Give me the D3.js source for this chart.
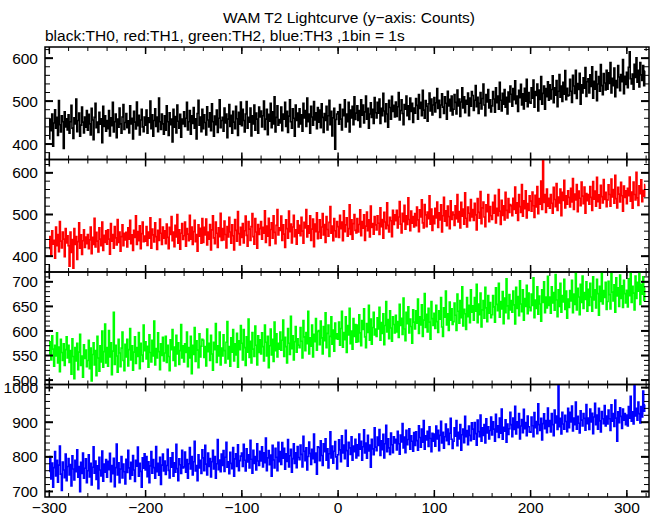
<!DOCTYPE html>
<html><head><meta charset="utf-8">
<script src="https://cdn.jsdelivr.net/npm/d3@7"></script>
<style>body{margin:0;background:#fff}svg{display:block}text{font-family:"Liberation Sans",Arial,sans-serif;fill:#000}</style>
</head><body><div id="chart"></div>
<script>
const title = "WAM T2 Lightcurve (y\u2212axis: Counts)";
const subtitle = "black:TH0, red:TH1, green:TH2, blue:TH3 ,1bin = 1s";
const binStart = -300, binWidth = 1;
const xTickValues = [-300, -200, -100, 0, 100, 200, 300];
const xTickLabels = ["\u2212300", "\u2212200", "\u2212100", "0", "100", "200", "300"];
const seriesNames = ["TH0", "TH1", "TH2", "TH3"];
const seriesColors = ["#000000", "#ff0000", "#00ff00", "#0000ff"];
const yDomains = [[364, 626], [362, 632], [491, 720], [684, 1009]];
const yTickValues = [[400, 500, 600], [400, 500, 600], [500, 550, 600, 650, 700], [700, 800, 900, 1000]];
const yMinorSteps = [20, 20, 10, 20];

const th0 = [
412,458,431,470,395,449,480,437,462,420,501,445,428,466,452,390,475,440,459,433,
468,425,452,490,437,413,461,447,505,429,455,472,418,444,486,451,426,463,439,478,
432,469,447,421,483,456,410,462,495,438,451,427,474,446,459,403,488,441,466,430,
455,436,478,419,461,443,497,428,452,470,415,458,439,484,447,425,463,492,434,450,
471,438,454,426,489,447,460,412,476,451,435,498,443,467,421,456,481,440,429,463,
444,479,425,461,450,500,436,468,418,455,482,441,463,429,507,452,434,470,447,423,
466,432,489,452,420,473,445,458,405,481,439,464,426,491,453,437,469,416,458,447,
475,441,460,497,433,452,478,423,466,448,485,437,459,412,471,502,444,463,429,481,
436,468,450,421,487,456,440,473,431,494,452,418,465,445,479,427,460,503,438,455,
462,430,484,449,470,415,458,492,441,467,425,476,451,436,488,459,420,474,446,498,
443,481,455,428,470,499,437,462,451,484,419,466,447,491,432,472,458,425,486,463,
477,440,466,500,434,458,481,422,469,453,495,438,475,447,510,428,462,489,444,457,
449,486,431,470,458,497,441,476,427,465,503,452,437,482,460,418,491,455,472,440,
482,447,468,430,495,461,478,441,507,452,470,425,488,463,444,499,456,473,436,485,
451,479,438,494,462,427,471,455,488,433,466,502,445,476,419,461,483,388,457,470,
475,446,492,458,433,481,466,503,440,470,452,497,428,479,461,488,445,510,457,472,
489,455,478,440,503,467,491,449,475,512,458,483,437,470,496,462,481,448,508,473,
461,497,472,505,448,483,466,518,477,452,494,470,439,502,485,458,511,476,490,463,
498,464,487,520,456,478,503,471,445,492,481,512,466,489,457,507,476,495,450,484,
472,506,490,458,515,483,497,466,525,479,460,501,488,453,494,519,477,505,468,491,
508,475,496,529,483,502,462,491,517,486,471,510,495,458,523,489,504,477,512,468,
481,515,497,470,526,489,505,464,498,531,484,510,473,502,493,519,466,507,488,522,
513,478,502,536,487,509,471,495,520,482,506,540,491,466,515,498,527,484,503,475,
489,522,505,474,531,496,512,481,544,502,477,518,493,527,486,509,470,521,498,535,
516,488,529,503,547,494,512,476,525,508,539,491,517,482,530,500,551,487,520,498,
495,531,507,549,486,522,513,540,477,526,504,557,493,518,535,481,529,510,545,502,
538,505,527,559,496,531,514,548,487,523,562,509,535,499,544,516,571,503,530,512,
514,551,523,497,560,535,518,572,506,541,527,565,493,538,519,554,530,578,511,545,
552,519,561,534,580,507,546,528,569,501,540,557,523,585,536,515,564,542,526,572,
528,566,541,590,519,553,536,577,510,548,531,583,556,524,562,545,597,517,558,539,
567,531,579,615,552,540,563,528,586,555,601,544,572,533,590,561,548,583,536,570];

const th1 = [
418,447,402,461,429,438,395,470,425,452,411,483,436,420,458,441,399,466,432,449,
425,376,458,409,440,371,466,428,447,392,435,480,419,451,404,437,463,421,446,430,
452,418,439,470,406,445,428,491,422,457,436,410,468,441,425,482,414,450,433,461,
429,463,441,405,478,436,452,419,471,444,427,488,433,458,412,447,475,425,455,439,
457,422,468,441,486,430,451,414,462,445,497,428,459,437,473,418,454,482,435,448,
436,471,426,458,443,492,419,465,451,434,480,447,416,462,438,489,455,428,470,443,
461,430,477,445,418,469,452,495,437,458,423,474,446,500,431,463,417,455,478,440,
449,482,424,466,453,437,498,441,470,428,459,486,435,452,412,475,448,467,431,490,
433,469,451,489,427,458,441,476,415,463,497,444,430,482,455,421,468,447,503,438,
466,439,484,452,420,471,446,493,458,431,475,449,415,488,462,436,507,454,427,469,
445,478,432,461,496,450,424,483,465,438,471,502,447,429,490,458,419,476,452,466,
483,441,469,455,509,433,472,448,491,426,464,480,443,497,457,430,474,512,451,468,
462,496,438,475,453,421,487,466,443,508,459,477,432,470,498,447,463,429,485,455,
474,449,493,460,431,481,468,512,446,473,455,497,438,465,489,423,477,459,504,442,
458,487,443,470,502,451,476,433,495,464,448,481,519,455,472,437,490,461,446,483,
471,445,498,466,482,437,509,459,475,492,448,466,523,452,487,441,478,500,462,456,
490,458,476,511,449,483,467,499,438,472,506,461,487,446,520,469,478,453,495,475,
463,497,479,452,516,471,488,443,505,482,466,528,474,458,493,485,447,510,476,499,
485,510,468,494,531,477,456,503,483,522,465,497,476,540,488,461,508,479,495,470,
502,473,518,487,459,511,494,535,480,468,524,499,471,506,490,545,477,513,462,496,
478,515,492,530,469,504,487,523,458,497,541,484,509,473,520,495,466,533,488,506,
499,474,521,490,548,482,507,468,529,496,513,477,552,491,470,518,503,485,536,494,
512,486,527,499,463,538,505,491,555,478,516,530,494,471,523,507,548,483,519,497,
488,529,503,546,480,515,497,560,508,476,534,498,521,487,553,510,492,538,505,524,
521,497,539,512,566,503,528,486,548,519,505,572,496,533,514,557,492,526,510,545,
532,508,554,521,493,546,518,567,502,538,525,580,512,630,529,548,505,561,520,539,
515,548,527,503,565,536,519,574,510,542,528,561,497,553,534,582,516,545,525,557,
541,518,563,530,586,512,549,535,572,507,556,539,521,578,544,526,566,503,550,533,
548,525,567,541,510,579,537,556,520,589,531,547,515,570,543,528,584,536,553,519,
535,571,548,520,585,542,560,527,594,538,516,565,549,530,577,545,508,568,541,557,
526,563,545,590,532,554,515,578,548,535,601,540,522,569,550,583,531,558,544,572];

const th2 = [
552,578,541,590,563,528,571,549,596,535,567,517,583,556,540,574,530,562,588,545,
571,536,560,512,584,548,503,566,539,575,521,557,593,530,549,506,572,544,561,527,
540,581,523,565,498,552,576,531,560,509,589,545,518,570,537,600,526,558,614,535,
566,528,601,547,576,511,559,638,532,571,549,516,583,555,527,565,598,540,519,573,
547,583,529,562,605,541,570,520,557,588,534,566,548,597,523,575,551,538,612,560,
578,543,569,526,592,556,537,581,549,620,531,564,545,596,558,521,574,550,587,539,
555,589,536,571,548,519,582,562,603,540,567,529,591,553,576,532,560,613,545,570,
537,574,556,598,527,566,545,589,513,571,552,607,538,580,561,525,594,547,569,583,
581,546,568,529,604,558,575,540,591,553,520,577,562,615,536,570,549,598,531,565,
549,592,560,535,577,619,543,568,528,586,557,603,539,574,551,595,526,580,562,611,
575,541,603,566,530,588,557,624,546,579,535,597,563,548,610,571,531,590,556,582,
553,596,568,539,612,577,549,589,525,570,604,551,583,538,618,560,594,547,575,563,
598,561,581,622,548,587,568,535,605,575,552,630,564,590,541,578,609,557,584,571,
566,607,579,545,621,588,560,597,574,640,553,586,569,612,547,593,578,625,561,599,
601,572,620,586,553,609,580,637,566,595,612,548,589,629,573,602,559,616,584,594,
583,618,571,605,640,567,597,582,629,556,611,592,646,574,600,563,625,589,613,577,
612,578,633,596,570,621,603,645,588,566,615,597,652,581,624,573,607,638,592,604,
589,627,604,648,581,617,595,635,572,611,660,598,623,584,641,606,579,629,613,596,
632,598,619,587,654,611,626,593,667,604,580,638,615,649,596,624,609,575,643,618,
604,641,616,665,595,629,612,653,589,622,676,607,634,598,646,618,583,660,625,611,
636,605,652,619,597,641,624,668,608,589,647,628,681,612,635,601,659,622,645,613,
619,657,632,601,675,640,616,662,627,690,610,644,635,603,668,629,652,617,684,638,
651,622,668,640,695,617,655,633,677,608,643,662,626,689,647,619,672,636,658,627,
633,672,649,618,688,654,641,697,628,660,645,680,615,667,637,706,651,625,674,643,
662,638,681,653,614,689,646,670,631,702,655,639,684,622,666,650,693,635,677,648,
641,675,652,708,627,663,646,690,634,671,655,620,684,658,700,637,669,647,711,652,
669,636,690,657,678,642,715,663,629,684,650,697,638,672,659,705,644,681,626,665,
648,682,661,703,637,675,654,718,643,687,669,633,695,658,712,646,678,664,700,640,
685,652,697,669,640,710,663,684,647,705,676,632,691,660,720,655,682,668,699,644,
660,701,674,645,717,679,661,694,638,708,671,688,650,714,666,692,648,703,676,657,
683,649,706,672,720,658,691,677,643,712,666,699,681,720,654,695,675,710,662,688];

const th3 = [
758,801,736,782,712,769,815,745,790,727,776,831,750,703,785,762,740,808,731,772,
795,748,778,716,803,765,733,790,757,820,741,772,699,784,752,811,738,767,794,725,
760,806,742,781,719,770,829,753,788,735,774,708,799,762,745,817,730,779,756,792,
741,787,763,810,728,775,751,796,714,769,837,748,783,725,765,801,739,779,757,722,
793,755,819,768,736,784,747,804,762,729,790,773,828,744,781,758,712,797,767,809,
762,801,743,786,725,774,815,753,792,769,738,830,757,781,747,799,720,776,808,759,
788,749,775,822,761,739,797,770,812,744,783,756,836,766,731,794,777,752,819,768,
771,814,756,792,738,780,827,765,801,748,786,845,759,775,731,806,768,790,752,820,
797,760,833,779,748,811,772,795,742,786,819,765,801,738,780,850,763,791,757,808,
775,818,758,799,842,770,786,751,813,781,766,827,744,794,809,772,835,760,789,802,
811,772,836,790,759,823,785,806,768,848,793,753,819,781,801,762,838,788,775,816,
788,829,771,812,783,854,760,797,818,777,805,744,833,791,768,825,799,760,842,786,
815,778,841,796,825,764,809,787,850,771,803,822,756,795,838,781,812,769,830,798,
792,834,807,771,859,816,789,826,762,801,843,810,778,822,795,866,784,811,750,829,
827,789,846,804,775,838,815,852,790,823,768,809,872,797,831,782,816,844,800,765,
806,849,820,786,861,811,834,795,877,818,773,842,826,807,858,790,831,815,851,797,
835,803,866,822,845,790,829,878,811,840,796,862,817,834,770,851,823,806,884,828,
818,857,833,879,804,846,821,865,797,838,891,815,852,826,807,869,835,812,858,840,
851,820,874,838,808,863,843,896,826,857,812,877,835,850,881,822,861,845,816,870,
833,872,847,819,890,856,828,880,842,905,822,861,849,874,830,887,853,815,868,845,
866,831,889,852,877,818,862,903,840,871,825,858,895,847,880,836,868,911,851,824,
845,884,860,905,832,871,852,893,819,864,880,841,917,858,876,835,889,862,847,898,
880,851,899,867,834,906,873,858,921,845,884,862,893,840,910,869,887,852,876,915,
863,901,880,845,923,872,890,856,912,868,938,851,885,874,907,842,895,865,881,929,
893,858,912,879,946,866,901,884,925,852,889,908,870,937,881,899,861,918,887,872,
871,915,890,858,928,884,902,867,953,893,876,911,849,896,924,881,905,870,941,888,
905,872,925,893,861,935,898,918,879,1005,887,911,866,929,895,880,920,902,873,940,
884,929,901,947,875,912,893,958,880,917,897,869,933,906,889,925,911,877,951,896,
912,879,938,901,926,867,915,955,893,921,880,940,904,872,931,910,896,948,889,918,
895,935,910,876,950,903,925,888,964,912,845,930,899,942,917,882,938,906,925,893,
921,889,945,912,975,903,930,895,1008,918,940,906,958,925,898,945,915,990,932,950];

const allSeries = [th0, th1, th2, th3];

const W = 652, H = 515;
const left = 45, right = 649, top0 = 47, panelH = 112.5;
const fontSize = 15.5;
const svg = d3.select("#chart").append("svg").attr("width", W).attr("height", H);

const x = d3.scaleLinear().domain([-304.5, 323]).range([left, right]);

svg.append("text").attr("x", 349).attr("y", 23).attr("text-anchor", "middle")
  .attr("font-size", fontSize).text(title);
svg.append("text").attr("x", 45).attr("y", 41).attr("font-size", fontSize).text(subtitle);

allSeries.forEach((vals, p) => {
  const y0 = top0 + p * panelH, y1 = y0 + panelH;
  const y = d3.scaleLinear().domain(yDomains[p]).range([y1, y0]);
  const g = svg.append("g");
  const clipId = "clip" + p;
  svg.append("clipPath").attr("id", clipId).append("rect")
    .attr("x", left).attr("y", y0).attr("width", right - left).attr("height", panelH);
  const pts = vals.map((v, i) => [binStart + i * binWidth, v]);
  g.append("path").datum(pts)
    .attr("clip-path", `url(#${clipId})`)
    .attr("fill", "none").attr("stroke", seriesColors[p]).attr("stroke-width", 1.6)
    .attr("stroke-linejoin", "miter")
    .attr("d", d3.line().x(d => x(d[0])).y(d => y(d[1])).curve(d3.curveStep));

  const xMinor = d3.range(-300, 321, 20);
  const addX = (vals, len, w) => {
    vals.forEach(v => {
      g.append("line").attr("x1", x(v)).attr("x2", x(v)).attr("y1", y1).attr("y2", y1 - len)
        .attr("stroke", "#000").attr("stroke-width", w);
      g.append("line").attr("x1", x(v)).attr("x2", x(v)).attr("y1", y0).attr("y2", y0 + len)
        .attr("stroke", "#000").attr("stroke-width", w);
    });
  };
  addX(xMinor, 4, 1);
  addX(d3.range(-300, 301, 100), 7, 1.5);

  const [dmin, dmax] = yDomains[p];
  const st = yMinorSteps[p];
  const yMinor = d3.range(Math.ceil(dmin / st) * st, dmax + 0.001, st);
  const addY = (vals, len, w) => {
    vals.forEach(v => {
      g.append("line").attr("x1", left).attr("x2", left + len).attr("y1", y(v)).attr("y2", y(v))
        .attr("stroke", "#000").attr("stroke-width", w);
      g.append("line").attr("x1", right).attr("x2", right - len).attr("y1", y(v)).attr("y2", y(v))
        .attr("stroke", "#000").attr("stroke-width", w);
    });
  };
  addY(yMinor, 5, 1);
  addY(yTickValues[p], 8, 2);

  yTickValues[p].forEach(v => {
    g.append("text").attr("x", 38).attr("y", y(v)).attr("dy", "0.36em")
      .attr("text-anchor", "end").attr("font-size", fontSize).text(v);
  });

  g.append("rect").attr("x", left).attr("y", y0).attr("width", right - left).attr("height", panelH)
    .attr("fill", "none").attr("stroke", "#000").attr("stroke-width", 1.5);
});

const yb = top0 + 4 * panelH;
xTickValues.forEach((v, i) => {
  svg.append("text").attr("x", x(v)).attr("y", yb + 16).attr("text-anchor", "middle")
    .attr("font-size", fontSize).text(xTickLabels[i]);
});
</script></body></html>
